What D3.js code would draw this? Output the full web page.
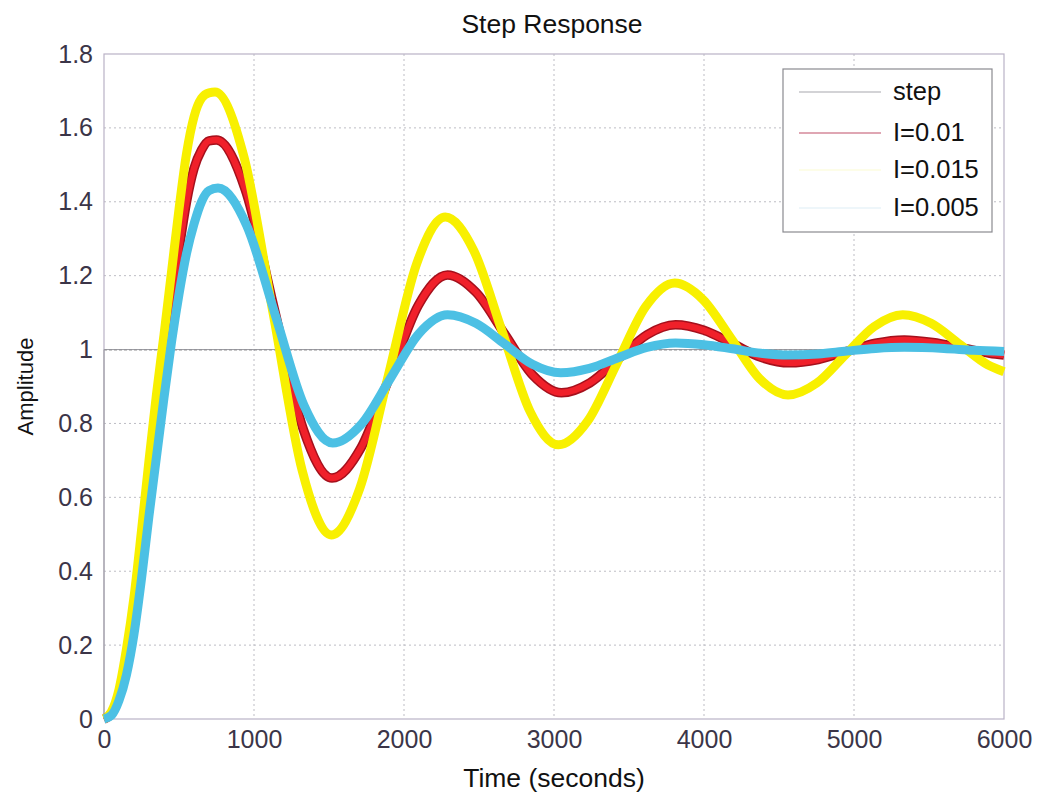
<!DOCTYPE html>
<html>
<head>
<meta charset="utf-8">
<script src="https://cdn.jsdelivr.net/npm/d3@7"></script>
<style>
  body { margin: 0; background: #fff; }
  text { font-family: "Liberation Sans", Arial, sans-serif; }
</style>
</head>
<body>
<svg id="chart" width="1037" height="796"></svg>
<script>
(function () {
    'use strict';

    // ticks
    const xTicks = [0, 1000, 2000, 3000, 4000, 5000, 6000];
    const yTicks = [0, 0.2, 0.4, 0.6, 0.8, 1, 1.2, 1.4, 1.6, 1.8];

    // step input
    const stepT = [0, 0, 6000];
    const stepV = [0, 1, 1];

    // I=0.01 (red)
    const redT = [0, 50, 100, 150, 200, 250, 300, 350, 400, 450, 500, 550, 600, 650, 700, 750,
        942, 1135, 1327, 1520, 1712, 1905, 2097, 2290, 2480, 2670, 2860, 3050,
        3240, 3430, 3620, 3810, 4000, 4190, 4380, 4570, 4761, 4953, 5144, 5335,
        5525, 5715, 5905, 6000];
    const redV = [0, 0.015, 0.065, 0.16, 0.29, 0.47, 0.64, 0.81, 0.96, 1.12, 1.27, 1.40, 1.49, 1.54, 1.565, 1.567,
        1.433, 1.110, 0.786, 0.652, 0.733, 0.927, 1.121, 1.202, 1.155, 1.043, 0.930, 0.883,
        0.910, 0.975, 1.040, 1.067, 1.052, 1.016, 0.979, 0.964, 0.973, 0.995, 1.017, 1.026,
        1.019, 1.005, 0.990, 0.985];

    // I=0.015 (yellow)
    const yellowT = [0, 50, 100, 150, 200, 250, 300, 350, 400, 450, 500, 550, 600, 650, 700, 740,
        934, 1128, 1321, 1515, 1705, 1895, 2085, 2275, 2464, 2653, 2841, 3030,
        3224, 3418, 3611, 3805, 3994, 4183, 4371, 4560, 4751, 4943, 5134, 5325,
        5514, 5703, 5891, 6000];
    const yellowV = [0, 0.02, 0.08, 0.19, 0.33, 0.51, 0.70, 0.88, 1.04, 1.21, 1.38, 1.53, 1.63, 1.68, 1.695, 1.697,
        1.52, 1.097, 0.673, 0.498, 0.624, 0.929, 1.233, 1.359, 1.269, 1.051, 0.832, 0.742,
        0.806, 0.961, 1.116, 1.180, 1.135, 1.029, 0.921, 0.877, 0.909, 0.986, 1.062, 1.094,
        1.071, 1.015, 0.959, 0.940];

    // I=0.005 (cyan)
    const cyanT = [0, 50, 100, 150, 200, 250, 300, 350, 400, 450, 500, 550, 600, 650, 700, 760,
        951, 1143, 1334, 1525, 1716, 1908, 2099, 2290, 2479, 2668, 2856, 3045,
        3236, 3428, 3619, 3810, 4000, 4190, 4380, 4570, 4761, 4953, 5144, 5335,
        5600, 5800, 6000];
    const cyanV = [0, 0.01, 0.05, 0.12, 0.23, 0.38, 0.55, 0.71, 0.87, 1.02, 1.15, 1.26, 1.34, 1.40, 1.43, 1.437,
        1.336, 1.092, 0.848, 0.747, 0.798, 0.921, 1.043, 1.094, 1.071, 1.016, 0.960, 0.937,
        0.949, 0.978, 1.006, 1.018, 1.013, 1.002, 0.990, 0.985, 0.988, 0.996, 1.003, 1.006,
        1.003, 0.998, 0.995];

    const legendNames = ["step", "I=0.01", "I=0.015", "I=0.005"];
    const legendColors = ["#c4c4c8", "#d4889a", "#fcfce0", "#e8f3f8"];

    const margin = {top: 54, right: 33, bottom: 77, left: 104};
    const W = 1037, H = 796;
    const iw = W - margin.left - margin.right;
    const ih = H - margin.top - margin.bottom;

    const x = d3.scaleLinear().domain([0, 6000]).range([0, iw]);
    const y = d3.scaleLinear().domain([0, 1.8]).range([ih, 0]);

    const svg = d3.select("#chart");
    const g = svg.append("g").attr("transform", `translate(${margin.left},${margin.top})`);

    // grid
    g.append("g").selectAll("line")
        .data(xTicks.slice(1, -1))
        .join("line")
        .attr("x1", d => x(d)).attr("x2", d => x(d))
        .attr("y1", 0).attr("y2", ih)
        .attr("stroke", "#bdbdc4").attr("stroke-dasharray", "2,3");
    g.append("g").selectAll("line")
        .data(yTicks.slice(1, -1).filter(d => d !== 1))
        .join("line")
        .attr("x1", 0).attr("x2", iw)
        .attr("y1", d => y(d)).attr("y2", d => y(d))
        .attr("stroke", "#bdbdc4").attr("stroke-dasharray", "2,3");

    // steady state line
    g.append("line")
        .attr("x1", 0).attr("x2", iw)
        .attr("y1", y(1)).attr("y2", y(1))
        .attr("stroke", "#333").attr("stroke-width", 1.3)
        .attr("stroke-dasharray", "3,2");

    // axes
    const fmt = d3.format("~g");
    const xAxis = g.append("g")
        .attr("transform", `translate(0,${ih})`)
        .call(d3.axisBottom(x).tickValues(xTicks).tickFormat(fmt).tickSize(0).tickPadding(11));
    const yAxis = g.append("g")
        .call(d3.axisLeft(y).tickValues(yTicks).tickFormat(fmt).tickSize(0).tickPadding(11));
    [xAxis, yAxis].forEach(a => {
        a.select(".domain").remove();
        a.selectAll("text")
            .attr("fill", "#3b3548")
            .style("font-size", "25px")
            .style("font-family", "'Liberation Sans', Arial, sans-serif");
    });

    // frame
    g.append("rect")
        .attr("width", iw).attr("height", ih)
        .attr("fill", "none").attr("stroke", "#bab2c6").attr("stroke-width", 1.2);

    const line = d3.line()
        .x(d => x(d[0]))
        .y(d => y(d[1]))
        .curve(d3.curveMonotoneX);

    // step
    g.append("path")
        .attr("d", d3.line().x(d => x(d[0])).y(d => y(d[1]))(d3.zip(stepT, stepV)))
        .attr("fill", "none").attr("stroke", "#9a9aa0").attr("stroke-width", 1);

    // red with dark edge
    const redData = d3.zip(redT, redV);
    g.append("path").attr("d", line(redData))
        .attr("fill", "none").attr("stroke", "#a5101c").attr("stroke-width", 9.5)
        .attr("stroke-linejoin", "round");
    g.append("path").attr("d", line(redData))
        .attr("fill", "none").attr("stroke", "#f0202a").attr("stroke-width", 6.5)
        .attr("stroke-linejoin", "round");

    g.append("path").attr("d", line(d3.zip(yellowT, yellowV)))
        .attr("fill", "none").attr("stroke", "#f8f000").attr("stroke-width", 9)
        .attr("stroke-linejoin", "round");

    g.append("path").attr("d", line(d3.zip(cyanT, cyanV)))
        .attr("fill", "none").attr("stroke", "#4cc0e4").attr("stroke-width", 9)
        .attr("stroke-linejoin", "round");

    // title and labels
    svg.append("text")
        .attr("x", margin.left + iw / 2 - 2).attr("y", 33)
        .attr("text-anchor", "middle")
        .style("font-size", "26.5px").attr("fill", "#111")
        .text("Step Response");
    svg.append("text")
        .attr("x", margin.left + iw / 2).attr("y", 787)
        .attr("text-anchor", "middle")
        .style("font-size", "26.5px").attr("fill", "#111")
        .text("Time (seconds)");
    svg.append("text")
        .attr("transform", `translate(33,${margin.top + ih / 2}) rotate(-90)`)
        .attr("text-anchor", "middle")
        .style("font-size", "22px").attr("fill", "#111")
        .text("Amplitude");

    // legend
    const leg = svg.append("g");
    leg.append("rect")
        .attr("x", 783).attr("y", 69).attr("width", 209).attr("height", 163)
        .attr("fill", "#fff").attr("stroke", "#8a8a90").attr("stroke-width", 1.2);
    const rows = [100, 141, 178, 216];
    leg.selectAll("line.k")
        .data(legendNames)
        .join("line")
        .attr("x1", 799).attr("x2", 881)
        .attr("y1", (d, i) => rows[i] - 8).attr("y2", (d, i) => rows[i] - 8)
        .attr("stroke", (d, i) => legendColors[i]).attr("stroke-width", 1.5);
    leg.selectAll("text")
        .data(legendNames)
        .join("text")
        .attr("x", 893).attr("y", (d, i) => rows[i])
        .style("font-size", "25.5px").attr("fill", "#111")
        .text(d => d);
}());
</script>
</body>
</html>
